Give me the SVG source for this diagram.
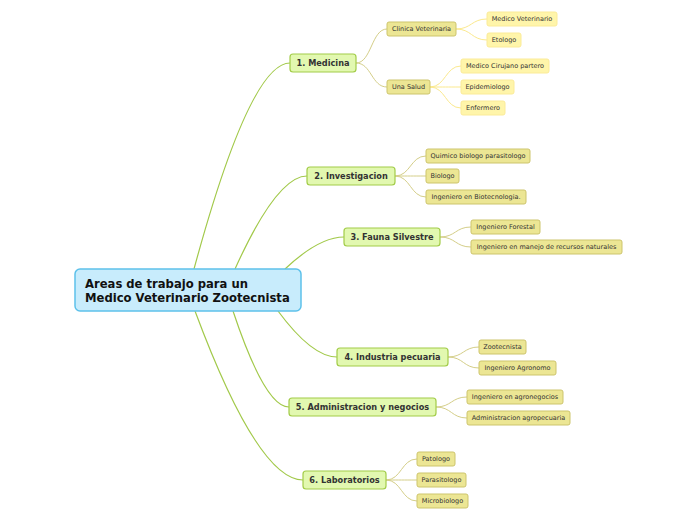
<svg xmlns="http://www.w3.org/2000/svg" width="696" height="520" viewBox="0 0 696 520">
<style>
text{font-family:"DejaVu Sans",Verdana,sans-serif;fill:#333;}
.root rect{fill:#c8ecfc;stroke:#5dc1ea;stroke-width:1.5;}
.root text{font-size:11.6px;font-weight:bold;fill:#111;}
.main rect{fill:#e2f8b0;stroke:#a2cc48;stroke-width:1.2;}
.main text{font-size:8.2px;font-weight:bold;text-anchor:middle;}
.sub rect{fill:#ece694;stroke:#cdc56c;stroke-width:1;}
.leaf rect{fill:#fff5aa;stroke:#fbeb98;stroke-width:1;}
.sub text,.leaf text{font-size:6.5px;text-anchor:middle;}
.c0{fill:none;stroke:#a2c94a;stroke-width:1.2;}
.c1{fill:none;stroke:#d4ce88;stroke-width:1;}
.c2{fill:none;stroke:#fbe98e;stroke-width:1;}
</style>
<rect width="696" height="520" fill="#fff"/>
<g id="connectors">
<path class="c0" d="M194,269 Q250,63 290,63"/>
<path class="c0" d="M235,269 Q277,176 307,176"/>
<path class="c0" d="M285,269 Q319,237 344,237"/>
<path class="c0" d="M278,311 Q312,357 337,357"/>
<path class="c0" d="M233,311 Q265,407 289,407"/>
<path class="c0" d="M195,311 Q258,480 303,480"/>
<path class="c1" d="M356,63 C371.5,63 371.5,29 387,29"/>
<path class="c1" d="M356,63 C371.5,63 371.5,87 387,87"/>
<path class="c2" d="M456,29 C471.5,29 471.5,19 487,19"/>
<path class="c2" d="M456,29 C471.5,29 471.5,40 487,40"/>
<path class="c2" d="M430,87 C445.5,87 445.5,66 461,66"/>
<path class="c2" d="M430,87 C445.5,87 445.5,87 461,87"/>
<path class="c2" d="M430,87 C445.5,87 445.5,108 461,108"/>
<path class="c1" d="M395,176 C410.5,176 410.5,156 426,156"/>
<path class="c1" d="M395,176 C410.5,176 410.5,176 426,176"/>
<path class="c1" d="M395,176 C410.5,176 410.5,197 426,197"/>
<path class="c1" d="M440,237 C455.5,237 455.5,227 471,227"/>
<path class="c1" d="M440,237 C455.5,237 455.5,247 471,247"/>
<path class="c1" d="M448,357 C463.5,357 463.5,347 479,347"/>
<path class="c1" d="M448,357 C463.5,357 463.5,368 479,368"/>
<path class="c1" d="M436,407 C451.5,407 451.5,397 467,397"/>
<path class="c1" d="M436,407 C451.5,407 451.5,418 467,418"/>
<path class="c1" d="M386,480 C401.5,480 401.5,459 417,459"/>
<path class="c1" d="M386,480 C401.5,480 401.5,480 417,480"/>
<path class="c1" d="M386,480 C401.5,480 401.5,501 417,501"/>
</g>
<g id="root" class="root"><rect x="75" y="269" width="226" height="42" rx="5"/><text x="85" y="288">Areas de trabajo para un</text><text x="85" y="302">Medico Veterinario Zootecnista</text></g>
<g id="m1" class="main"><rect x="290" y="54" width="66" height="18" rx="3"/><text x="323" y="66">1. Medicina</text></g>
<g id="m2" class="main"><rect x="307" y="167" width="88" height="18" rx="3"/><text x="351" y="179">2. Investigacion</text></g>
<g id="m3" class="main"><rect x="344" y="228" width="96" height="18" rx="3"/><text x="392" y="240">3. Fauna Silvestre</text></g>
<g id="m4" class="main"><rect x="337" y="348" width="111" height="18" rx="3"/><text x="392.5" y="360">4. Industria pecuaria</text></g>
<g id="m5" class="main"><rect x="289" y="398" width="147" height="18" rx="3"/><text x="362.5" y="410">5. Administracion y negocios</text></g>
<g id="m6" class="main"><rect x="303" y="471" width="83" height="18" rx="3"/><text x="344.5" y="483">6. Laboratorios</text></g>
<g id="c11" class="sub"><rect x="387" y="22" width="69" height="14" rx="2"/><text x="421.5" y="31.3">Clinica Veterinaria</text></g>
<g id="c12" class="sub"><rect x="387" y="80" width="43" height="14" rx="2"/><text x="408.5" y="89.3">Una Salud</text></g>
<g id="l111" class="leaf"><rect x="487" y="12" width="70" height="14" rx="2"/><text x="522" y="21.3">Medico Veterinario</text></g>
<g id="l112" class="leaf"><rect x="487" y="33" width="34" height="14" rx="2"/><text x="504" y="42.3">Etologo</text></g>
<g id="l121" class="leaf"><rect x="461" y="59" width="88" height="14" rx="2"/><text x="505" y="68.3">Medico Cirujano partero</text></g>
<g id="l122" class="leaf"><rect x="461" y="80" width="53" height="14" rx="2"/><text x="487.5" y="89.3">Epidemiologo</text></g>
<g id="l123" class="leaf"><rect x="461" y="101" width="44" height="14" rx="2"/><text x="483" y="110.3">Enfermero</text></g>
<g id="c21" class="sub"><rect x="426" y="149" width="104" height="14" rx="2"/><text x="478" y="158.3">Quimico biologo parasitologo</text></g>
<g id="c22" class="sub"><rect x="426" y="169" width="33" height="14" rx="2"/><text x="442.5" y="178.3">Biologo</text></g>
<g id="c23" class="sub"><rect x="426" y="190" width="100" height="14" rx="2"/><text x="476" y="199.3">Ingeniero en Biotecnologia.</text></g>
<g id="c31" class="sub"><rect x="471" y="220" width="69" height="14" rx="2"/><text x="505.5" y="229.3">Ingeniero Forestal</text></g>
<g id="c32" class="sub"><rect x="471" y="240" width="151" height="14" rx="2"/><text x="546.5" y="249.3">Ingeniero en manejo de recursos naturales</text></g>
<g id="c41" class="sub"><rect x="479" y="340" width="47" height="14" rx="2"/><text x="502.5" y="349.3">Zootecnista</text></g>
<g id="c42" class="sub"><rect x="479" y="361" width="77" height="14" rx="2"/><text x="517.5" y="370.3">Ingeniero Agronomo</text></g>
<g id="c51" class="sub"><rect x="467" y="390" width="96" height="14" rx="2"/><text x="515" y="399.3">Ingeniero en agronegocios</text></g>
<g id="c52" class="sub"><rect x="467" y="411" width="103" height="14" rx="2"/><text x="518.5" y="420.3">Administracion agropecuaria</text></g>
<g id="c61" class="sub"><rect x="417" y="452" width="38" height="14" rx="2"/><text x="436" y="461.3">Patologo</text></g>
<g id="c62" class="sub"><rect x="417" y="473" width="49" height="14" rx="2"/><text x="441.5" y="482.3">Parasitologo</text></g>
<g id="c63" class="sub"><rect x="417" y="494" width="51" height="14" rx="2"/><text x="442.5" y="503.3">Microbiologo</text></g>
</svg>
